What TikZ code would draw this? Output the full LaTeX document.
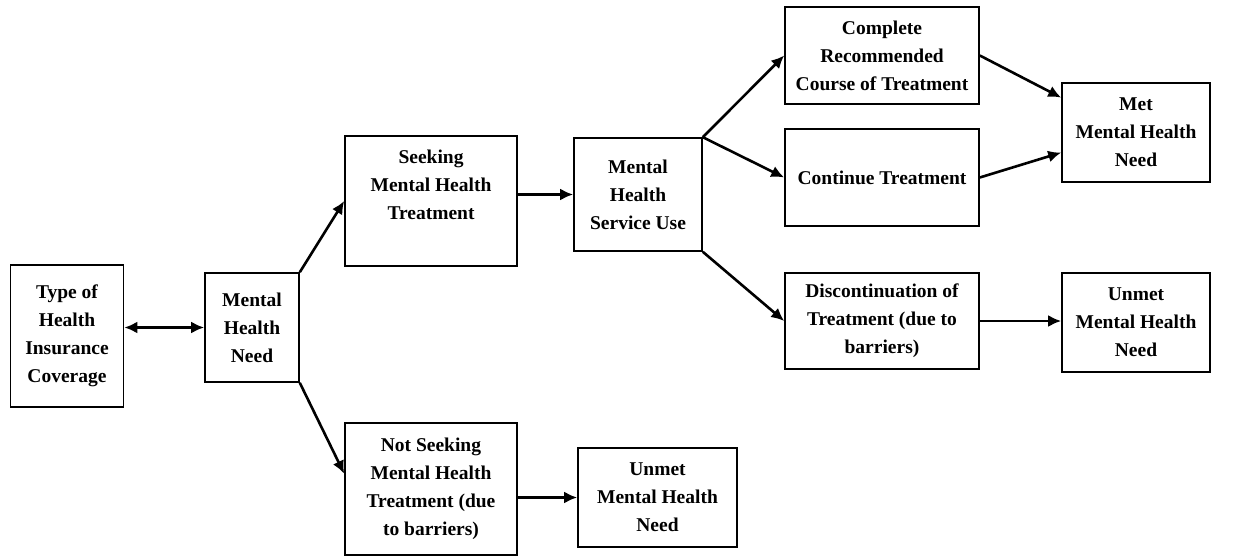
\documentclass[tikz,border=0pt]{standalone}
\usepackage{fontspec}
\setmainfont{Liberation Serif}
\usetikzlibrary{arrows.meta}

\begin{document}
\begin{tikzpicture}[x=1pt, y=-1pt,
		every node/.style={draw, line width=1.6pt, align=center, inner sep=2pt,
			font=\fontsize{19.5}{28}\selectfont\bfseries},
		flow/.style={line width=2.6pt, -{Latex[length=13pt, width=12pt]}}]
		\useasboundingbox (0, 0) rectangle (1238, 556);

		\node[minimum width=113, minimum height=142] (cover) at (67, 336) {Type of\\Health\\Insurance\\Coverage};
		\node[minimum width=94, minimum height=109] (need) at (252, 327.5) {Mental\\Health\\Need};

		\node[minimum width=172, minimum height=130, text depth=32pt] (seek) at (431, 201) {Seeking\\Mental Health\\Treatment};
		\node[minimum width=172, minimum height=132] (noseek) at (431, 489) {Not Seeking\\Mental Health\\Treatment (due\\to barriers)};
		\node[minimum width=159, minimum height=99] (unmetlow) at (657.5, 497.5) {Unmet\\Mental Health\\Need};

		\node[minimum width=128, minimum height=113] (use) at (638, 194.5) {Mental\\Health\\Service Use};

		\node[minimum width=194, minimum height=97] (complete) at (882, 55.5) {Complete\\Recommended\\Course of Treatment};
		\node[minimum width=194, minimum height=97] (continue) at (882, 177.5) {Continue Treatment};
		\node[minimum width=194, minimum height=96] (discont) at (882, 321) {Discontinuation of\\Treatment (due to\\barriers)};

		\node[minimum width=148, minimum height=99] (met) at (1136, 132.5) {Met\\Mental Health\\Need};
		\node[minimum width=148, minimum height=99] (unmethigh) at (1136, 322.5) {Unmet\\Mental Health\\Need};

		\draw[flow, {Latex[length=13pt, width=12pt]}-{Latex[length=13pt, width=12pt]}] (need.west -| cover.east) -- (need.west);
		\draw[flow] (need.north east) -- (seek.west);
		\draw[flow] (need.south east) -- (noseek.170);
		\draw[flow] (seek.east |- use.west) -- (use.west);
		\draw[flow] (noseek.east |- unmetlow.west) -- (unmetlow.west);

		\draw[flow] (use.north east) -- (complete.west);
		\draw[flow] (use.north east) -- (continue.west);
		\draw[flow] (use.south east) -- (discont.west);

		\draw[flow] (complete.east) -- (met.155);
		\draw[flow] (continue.east) -- (met.195);
		\draw[flow] (discont.east) -- (discont.east -| unmethigh.west);

	\end{tikzpicture}
\end{document}
